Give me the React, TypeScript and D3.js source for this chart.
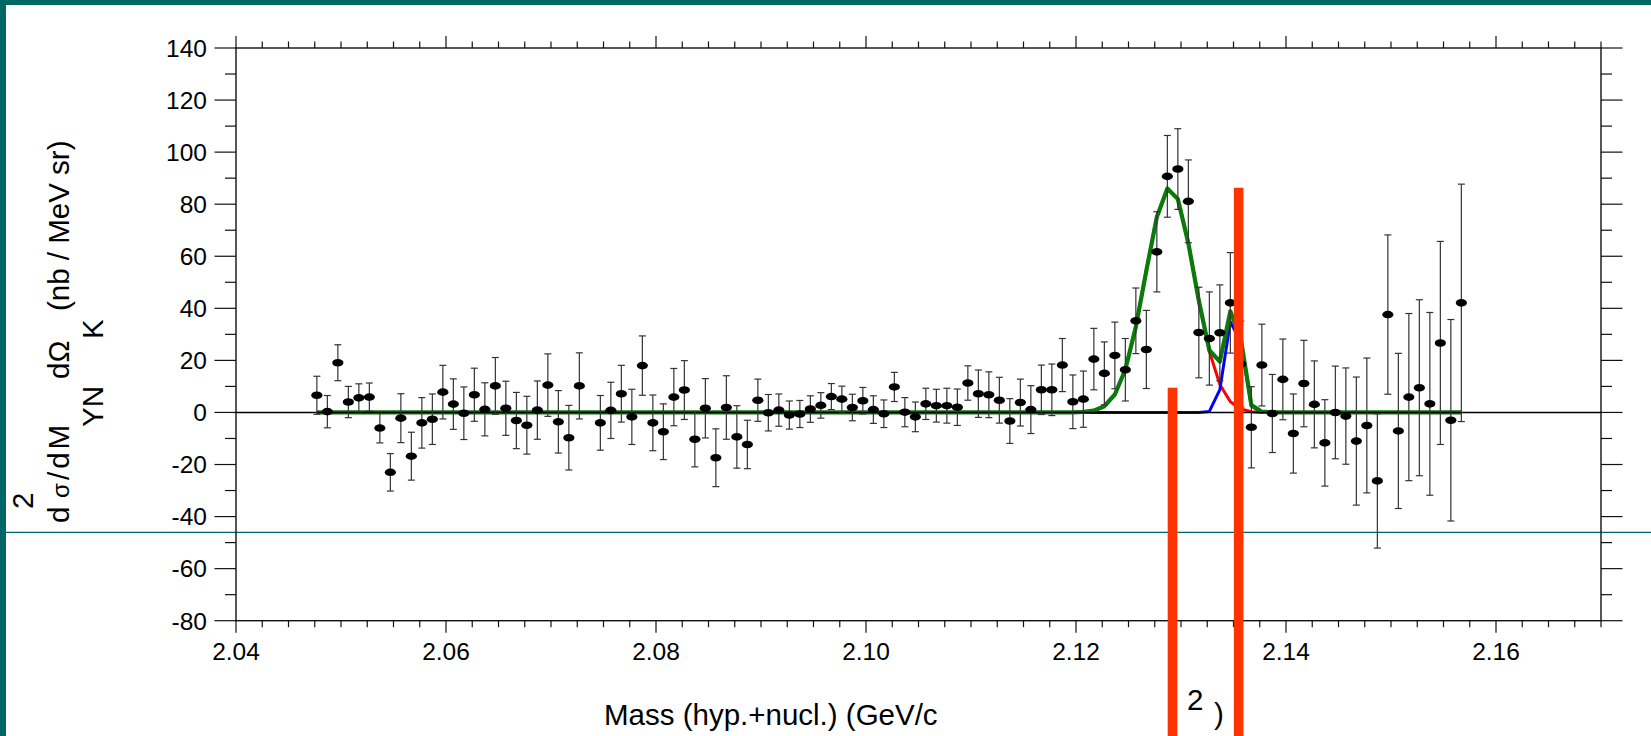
import React from "react";
import * as d3 from "d3";

// ---- data ----
const masses = [
  2.0477, 2.0487, 2.0497, 2.0507, 2.0517, 2.0527, 2.0537, 2.0547, 2.0557, 2.0567,
  2.0577, 2.0587, 2.0597, 2.0607, 2.0617, 2.0627, 2.0637, 2.0647, 2.0657, 2.0667,
  2.0677, 2.0687, 2.0697, 2.0707, 2.0717, 2.0727, 2.0737, 2.0747, 2.0757, 2.0767,
  2.0777, 2.0787, 2.0797, 2.0807, 2.0817, 2.0827, 2.0837, 2.0847, 2.0857, 2.0867,
  2.0877, 2.0887, 2.0897, 2.0907, 2.0917, 2.0927, 2.0937, 2.0947, 2.0957, 2.0967,
  2.0977, 2.0987, 2.0997, 2.1007, 2.1017, 2.1027, 2.1037, 2.1047, 2.1057, 2.1067,
  2.1077, 2.1087, 2.1097, 2.1107, 2.1117, 2.1127, 2.1137, 2.1147, 2.1157, 2.1167,
  2.1177, 2.1187, 2.1197, 2.1207, 2.1217, 2.1227, 2.1237, 2.1247, 2.1257, 2.1267,
  2.1277, 2.1287, 2.1297, 2.1307, 2.1317, 2.1327, 2.1337, 2.1347, 2.1357, 2.1367,
  2.1377, 2.1387, 2.1397, 2.1407, 2.1417, 2.1427, 2.1437, 2.1447, 2.1457, 2.1467,
  2.1477, 2.1487, 2.1497, 2.1507, 2.1517, 2.1527, 2.1537, 2.1547, 2.1557, 2.1567,
];

const crossSection: (number | null)[] = [
  6.6, 0.3, 19.1, 4.0, 5.6, 5.9, -6.0, -23.0, -2.2, -16.8,
  -4.0, -2.6, 7.8, 3.2, -0.3, 6.8, 1.2, 10.2, 1.6, -3.1,
  -4.9, 0.9, 10.5, -3.6, -9.7, 10.2, null, -4.0, 0.8, 7.2,
  -1.7, 18.0, -4.0, -7.4, 5.9, 8.6, -10.3, 1.6, -17.4, 1.9,
  -9.4, -12.3, 4.7, -0.1, 0.9, -1.0, -0.6, 1.3, 2.7, 6.1,
  5.1, 1.9, 4.5, 1.1, -0.5, 9.8, 0.1, -1.7, 3.3, 2.6,
  2.6, 2.0, 11.3, 7.2, 6.8, 4.7, -3.3, 3.8, 1.1, 8.7,
  8.7, 18.2, 4.1, 5.1, 20.5, 15.0, 21.9, 16.4, 35.2, 24.2,
  61.7, 90.7, 93.5, 81.1, 30.7, 28.4, 30.6, 42.1, 18.6, -5.7,
  18.2, -0.4, 12.7, -8.1, 11.1, 3.1, -11.7, 0.0, -1.4, -11.0,
  -5.0, -26.3, 37.6, -7.1, 5.9, 9.5, 3.3, 26.7, -3.0, 42.1,
];

const errors: (number | null)[] = [
  7.3, 6.2, 6.9, 6.0, 5.4, 5.4, 5.7, 7.2, 9.4, 9.2,
  9.7, 9.7, 10.3, 9.7, 10.1, 10.2, 10.2, 10.9, 10.4, 10.8,
  11.1, 11.2, 12.0, 12.0, 12.4, 12.7, null, 10.5, 10.8, 10.9,
  10.6, 11.4, 10.7, 10.7, 11.0, 11.3, 10.6, 11.4, 11.1, 12.2,
  12.0, 9.3, 8.1, 7.0, 6.2, 5.4, 5.2, 5.1, 4.9, 5.0,
  5.0, 5.1, 5.1, 5.3, 5.3, 5.6, 5.6, 5.7, 6.0, 6.3,
  6.7, 7.0, 6.6, 9.1, 8.8, 8.8, 8.6, 9.0, 9.2, 9.5,
  9.9, 10.2, 10.3, 10.8, 11.8, 12.1, 12.8, 12.0, 12.6, 15.0,
  15.4, 15.7, 15.5, 15.9, 17.4, 17.9, 18.4, 19.3, 16.5, 15.6,
  15.7, 15.0, 15.5, 15.2, 16.6, 16.7, 16.6, 17.8, 18.5, 24.6,
  25.9, 25.8, 30.6, 29.8, 32.1, 33.8, 35.1, 39.0, 38.7, 45.6,
];

const redFit = [
  0, 0, 0, 0, 0, 0, 0, 0, 0, 0,
  0, 0, 0, 0, 0, 0, 0, 0, 0, 0,
  0, 0, 0, 0, 0, 0, 0, 0, 0, 0,
  0, 0, 0, 0, 0, 0, 0, 0, 0, 0,
  0, 0, 0, 0, 0, 0, 0, 0, 0, 0,
  0, 0, 0, 0, 0, 0, 0, 0, 0, 0,
  0, 0, 0, 0, 0, 0, 0, 0, 0, 0,
  0, 0, 0, 0.2, 0.7, 2.4, 6.9, 16.5, 32.9, 54.5,
  75.1, 86.0, 82.0, 65.0, 42.9, 23.5, 10.7, 4.1, 1.3, 0.3,
  0, 0, 0, 0, 0, 0, 0, 0, 0, 0,
  0, 0, 0, 0, 0, 0, 0, 0, 0, 0,
];

const blueFit = [
  0, 0, 0, 0, 0, 0, 0, 0, 0, 0,
  0, 0, 0, 0, 0, 0, 0, 0, 0, 0,
  0, 0, 0, 0, 0, 0, 0, 0, 0, 0,
  0, 0, 0, 0, 0, 0, 0, 0, 0, 0,
  0, 0, 0, 0, 0, 0, 0, 0, 0, 0,
  0, 0, 0, 0, 0, 0, 0, 0, 0, 0,
  0, 0, 0, 0, 0, 0, 0, 0, 0, 0,
  0, 0, 0, 0, 0, 0, 0, 0, 0, 0,
  0, 0, 0, 0, 0, 0.4, 8.8, 34.8, 27.0, 2.5,
  0, 0, 0, 0, 0, 0, 0, 0, 0, 0,
  0, 0, 0, 0, 0, 0, 0, 0, 0, 0,
];

const greenFit = [
  0, 0, 0, 0, 0, 0, 0, 0, 0, 0,
  0, 0, 0, 0, 0, 0, 0, 0, 0, 0,
  0, 0, 0, 0, 0, 0, 0, 0, 0, 0,
  0, 0, 0, 0, 0, 0, 0, 0, 0, 0,
  0, 0, 0, 0, 0, 0, 0, 0, 0, 0,
  0, 0, 0, 0, 0, 0, 0, 0, 0, 0,
  0, 0, 0, 0, 0, 0, 0, 0, 0, 0,
  0, 0, 0, 0.2, 0.7, 2.4, 6.9, 16.5, 32.9, 54.5,
  75.1, 86.0, 82.0, 65.0, 42.9, 23.9, 19.5, 38.9, 28.3, 2.8,
  0.3, 0, 0, 0, 0, 0, 0, 0, 0, 0,
  0, 0, 0, 0, 0, 0, 0, 0, 0, 0,
];

// threshold markers (mass, top value)
const thresholdMasses = [2.12919, 2.13549];
const thresholdTops = [9.5, 86.3];

const xTickLabels = [2.04, 2.06, 2.08, 2.1, 2.12, 2.14, 2.16];
const yTickLabels = [-80, -60, -40, -20, 0, 20, 40, 60, 80, 100, 120, 140];

const FONT = "'Liberation Sans', Arial, Helvetica, sans-serif";
const TEAL = "#006666";

export default function App() {
  const W = 1651, H = 736;
  const x = d3.scaleLinear().domain([2.04, 2.17]).range([236, 1601]);
  const y = d3.scaleLinear().domain([-80, 140]).range([620.7, 48]);
  const [x0, x1] = x.range();
  const [yb, yt] = y.range();

  const minorX = d3.range(0, 53).map((i) => 2.04 + i * 0.0025);
  const majorX = xTickLabels;
  const minorY = d3.range(-80, 141, 10);

  const line = (vals: number[]) =>
    d3.line<number>().x((_, i) => x(masses[i])).y((v) => y(v))(vals) || "";

  const axisColor = "#111";
  const tickW = 1.2;

  return (
    <div style={{ position: "fixed", left: 0, top: 0, width: W, height: H, background: "#fff" }}>
      <svg width={W} height={H} style={{ display: "block" }} fontFamily={FONT}>
        <rect x={0} y={0} width={W} height={H} fill="#fff" />
        {/* teal frame */}
        <rect x={0} y={0} width={6} height={H} fill={TEAL} />
        <rect x={0} y={0} width={W} height={5} fill={TEAL} />
        <line x1={6} x2={W} y1={532.3} y2={532.3} stroke={TEAL} strokeWidth={1.2} />

        {/* minor / major ticks */}
        {minorX.map((m, i) => {
          const isMajor = majorX.some((v) => Math.abs(v - m) < 1e-6);
          const len = isMajor ? 12 : 6.5;
          return (
            <g key={"xt" + i} stroke={axisColor} strokeWidth={tickW}>
              <line x1={x(m)} x2={x(m)} y1={yb} y2={yb + len} />
              <line x1={x(m)} x2={x(m)} y1={yt} y2={yt - len} />
            </g>
          );
        })}
        {minorY.map((v, i) => {
          const isMajor = v % 20 === 0;
          const len = isMajor ? 21.5 : 11;
          return (
            <g key={"yt" + i} stroke={axisColor} strokeWidth={tickW}>
              <line x1={x0} x2={x0 - len} y1={y(v)} y2={y(v)} />
              <line x1={x1} x2={x1 + len} y1={y(v)} y2={y(v)} />
            </g>
          );
        })}
        {/* frame */}
        <rect x={x0} y={yt} width={x1 - x0} height={yb - yt} fill="none" stroke={axisColor} strokeWidth={1.4} />

        {/* tick labels */}
        {yTickLabels.map((v) => (
          <text key={"yl" + v} x={207} y={y(v) + 8.8} fontSize={24.5} textAnchor="end" fill="#000">
            {v}
          </text>
        ))}
        {xTickLabels.map((v) => (
          <text key={"xl" + v} x={x(v)} y={659.5} fontSize={24.5} textAnchor="middle" fill="#000">
            {d3.format(".2f")(v)}
          </text>
        ))}

        {/* fit curves */}
        <path d={line(redFit)} fill="none" stroke="#ff0000" strokeWidth={3} strokeLinejoin="round" />
        <path d={line(blueFit)} fill="none" stroke="#0000ff" strokeWidth={3} strokeLinejoin="round" />
        <path d={line(greenFit)} fill="none" stroke="#0a7a0a" strokeWidth={4.2} strokeLinejoin="round" />
        {/* zero line */}
        <line x1={x0} x2={x1} y1={y(0)} y2={y(0)} stroke="#000" strokeWidth={1.4} />

        {/* data points */}
        {masses.map((m, i) => {
          const v = crossSection[i];
          const e = errors[i];
          if (v == null || e == null) return null;
          const cx = x(m);
          return (
            <g key={"p" + i}>
              <g stroke="#333" strokeWidth={1.2}>
                <line x1={cx} x2={cx} y1={y(v + e)} y2={y(v - e)} />
                <line x1={cx - 3.5} x2={cx + 3.5} y1={y(v + e)} y2={y(v + e)} />
                <line x1={cx - 3.5} x2={cx + 3.5} y1={y(v - e)} y2={y(v - e)} />
              </g>
              <ellipse cx={cx} cy={y(v)} rx={5.6} ry={3.8} fill="#000" />
            </g>
          );
        })}

        {/* axis titles */}
        <g fill="#000" fontSize={29.5}>
          <text transform="translate(33,509) rotate(-90)">2</text>
          <text transform="translate(68.5,523) rotate(-90)">d</text>
          <text transform="translate(68.5,498) rotate(-90)" fontSize={24}>σ</text>
          <text transform="translate(68.5,480) rotate(-90)" letterSpacing={3}>/dM</text>
          <text transform="translate(68.5,379) rotate(-90)">dΩ</text>
          <text transform="translate(68.5,311) rotate(-90)">(nb / MeV sr)</text>
          <text transform="translate(103,427) rotate(-90)">YN</text>
          <text transform="translate(103,339) rotate(-90)">K</text>
          <text x={604} y={725}>Mass (hyp.+nucl.) (GeV/c</text>
          <text x={1187} y={710}>2</text>
          <text x={1214} y={724}>)</text>
        </g>

        {/* threshold markers */}
        {thresholdMasses.map((m, i) => (
          <rect key={"th" + i} x={x(m) - 4.8} y={y(thresholdTops[i])} width={9.6} height={H - y(thresholdTops[i])} fill="#ff3300" />
        ))}
      </svg>
    </div>
  );
}
